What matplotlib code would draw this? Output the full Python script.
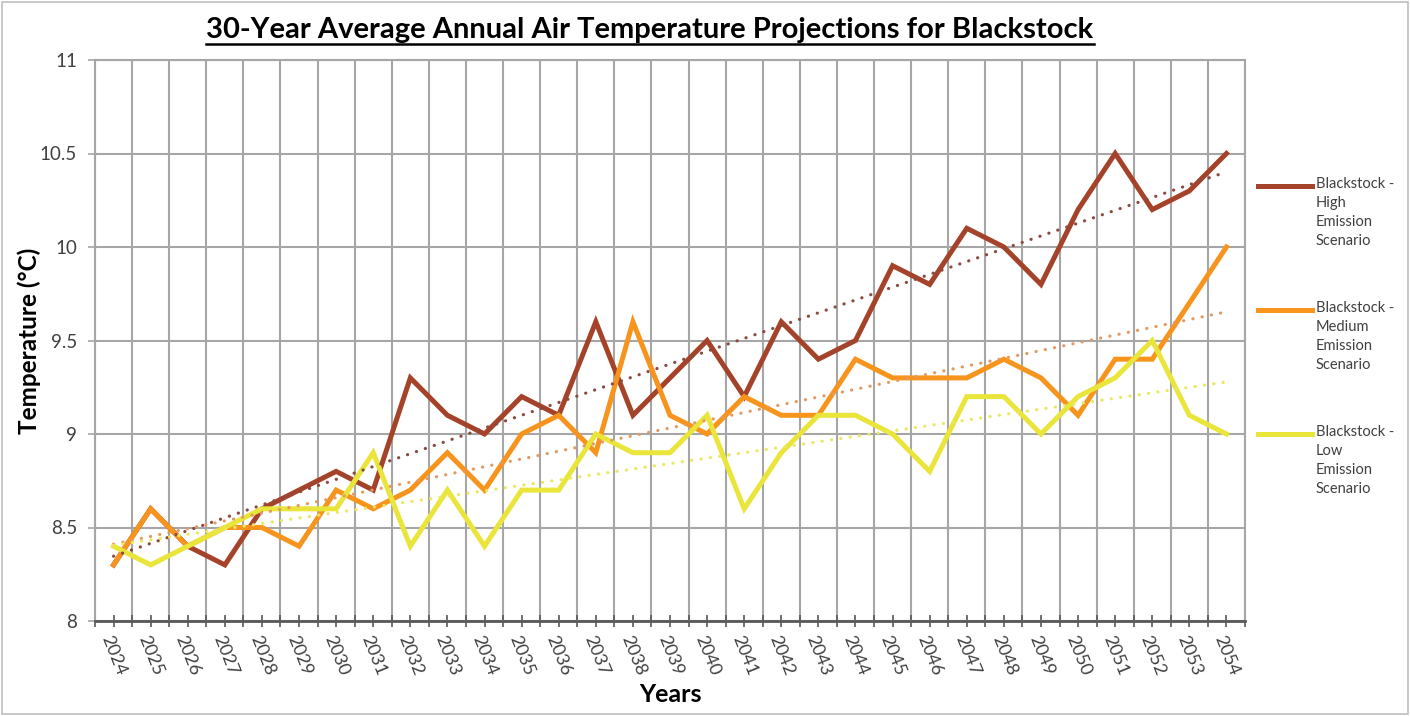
import numpy as np
import matplotlib
matplotlib.use("Agg")
import matplotlib.pyplot as plt
from matplotlib.lines import Line2D
from matplotlib.patches import Rectangle

plt.rcParams['font.family'] = ['Lato', 'DejaVu Sans']

# --- data ---
years = [str(y) for y in range(2024, 2055)]
high = [8.3, 8.6, 8.4, 8.3, 8.6, 8.7, 8.8, 8.7, 9.3, 9.1, 9.0, 9.2, 9.1, 9.6, 9.1, 9.3,
        9.5, 9.2, 9.6, 9.4, 9.5, 9.9, 9.8, 10.1, 10.0, 9.8, 10.2, 10.5, 10.2, 10.3, 10.5]
medium = [8.3, 8.6, 8.4, 8.5, 8.5, 8.4, 8.7, 8.6, 8.7, 8.9, 8.7, 9.0, 9.1, 8.9, 9.6, 9.1,
          9.0, 9.2, 9.1, 9.1, 9.4, 9.3, 9.3, 9.3, 9.4, 9.3, 9.1, 9.4, 9.4, 9.7, 10.0]
low = [8.4, 8.3, 8.4, 8.5, 8.6, 8.6, 8.6, 8.9, 8.4, 8.7, 8.4, 8.7, 8.7, 9.0, 8.9, 8.9,
       9.1, 8.6, 8.9, 9.1, 9.1, 9.0, 8.8, 9.2, 9.2, 9.0, 9.2, 9.3, 9.5, 9.1, 9.0]
labels = ["Blackstock -\nHigh\nEmission\nScenario",
          "Blackstock -\nMedium\nEmission\nScenario",
          "Blackstock -\nLow\nEmission\nScenario"]
colors = ["#A5432A", "#F7941D", "#E9E53B"]
trend_colors = ["#8A4A40", "#E39A62", "#EAE85E"]
y_ticks = [8, 8.5, 9, 9.5, 10, 10.5, 11]

W, H = 1410, 716
fig = plt.figure(figsize=(W / 100, H / 100), dpi=100)
ax = fig.add_axes([95 / W, 1 - 621 / H, 1150 / W, 561 / H])

x = np.arange(len(years))
series = [high, medium, low]
for vals, c in zip(series, colors):
    ax.plot(x, vals, color=c, lw=3.6, solid_joinstyle='miter', zorder=3)
for vals, tc in zip(series, trend_colors):
    k, b = np.polyfit(x, vals, 1)
    ax.plot(x, k * x + b, color=tc, lw=2.3, linestyle=(0, (0.05, 2.9)),
            dash_capstyle='round', zorder=4)

ax.set_xlim(-0.5, len(years) - 0.5)
ax.set_ylim(8, 11)
ax.set_yticks(y_ticks)
ax.set_yticklabels([f"{v:g}" for v in y_ticks], fontsize=13.5, color="#404040")
ax.set_xticks(np.arange(-0.5, len(years)), labels=[])
ax.set_xticks(x, labels=years, minor=True)
for lab in ax.get_xticklabels(minor=True):
    lab.set_rotation(-68)
    lab.set_ha('left')
    lab.set_va('top')
    lab.set_rotation_mode('anchor')
    lab.set_fontsize(13)
    lab.set_color("#404040")

ax.grid(True, which='major', color="#A6A6A6", lw=1.5, zorder=0)
ax.tick_params(axis='x', which='both', direction='inout', length=9, width=1.2,
               color="#595959", pad=4)
ax.tick_params(axis='y', which='major', direction='out', length=5, width=1.2,
               color="#A6A6A6", pad=8)
for side in ['top', 'right', 'left']:
    ax.spines[side].set_color("#A6A6A6")
    ax.spines[side].set_linewidth(1.5)
ax.spines['bottom'].set_color("#595959")
ax.spines['bottom'].set_linewidth(2)

ax.set_xlabel("Years", fontsize=18, fontweight='bold', labelpad=4)
ax.set_ylabel("Temperature (°C)", fontsize=17.5, fontweight='bold')
ax.yaxis.set_label_coords(-54 / 1150, 0.5)

title = fig.text(650 / W, 1 - 30 / H, "30-Year Average Annual Air Temperature Projections for Blackstock",
                 ha='center', va='center', fontsize=21, fontweight='bold')

# legend drawn by hand to match the spaced multi-line entries
leg_y = [186, 310, 434]
for yy, c, lab in zip(leg_y, colors, labels):
    fig.add_artist(Line2D([1258 / W, 1312 / W], [1 - yy / H, 1 - yy / H], color=c, lw=3.6))
    fig.text(1316 / W, 1 - (yy - 9) / H, lab, ha='left', va='top', fontsize=10.5,
             color="#404040", linespacing=1.45)

# chart border
fig.add_artist(Rectangle((2 / W, 2 / H), 1 - 4 / W, 1 - 4 / H, transform=fig.transFigure,
                         fill=False, edgecolor="#BFBFBF", lw=1.2))

# underline title
fig.canvas.draw()
bb = title.get_window_extent()
uy = bb.y0 - 1
fig.add_artist(Line2D([bb.x0 / W, bb.x1 / W], [uy / H, uy / H], color='black', lw=1.8))

fig.savefig("out.png", dpi=100)
